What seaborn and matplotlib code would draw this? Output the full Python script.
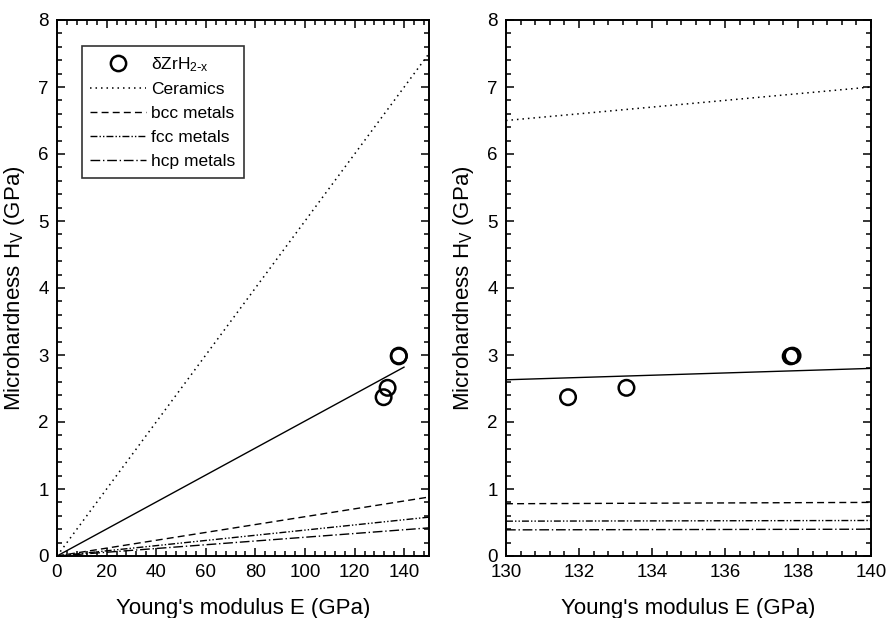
import numpy as np
import pandas as pd
import matplotlib
matplotlib.use("Agg")
import matplotlib.pyplot as plt
from matplotlib.ticker import MultipleLocator
from matplotlib.lines import Line2D
import seaborn as sns

# ---------------- data ----------------
# measured hydride points (Young's modulus E, GPa ; microhardness Hv, GPa)
hydride_E = [131.7, 133.3, 137.8, 137.85]
hydride_H = [2.37, 2.51, 2.98, 2.99]

# left panel: line endpoints
left_E = [0, 150]
left_fit_E = [0, 140]
left_fit_H = [0, 2.82]
left_ceramics = [0, 7.5]
left_bcc = [0, 0.88]
left_fcc = [0, 0.58]
left_hcp = [0, 0.42]

# right panel: line endpoints
right_E = [130, 140]
right_fit_H = [2.63, 2.80]
right_ceramics = [6.5, 7.0]
right_bcc = [0.78, 0.80]
right_fcc = [0.52, 0.53]
right_hcp = [0.39, 0.40]

legend_labels = ["\u03b4ZrH$_{2\\text{-}x}$", "Ceramics", "bcc metals", "fcc metals", "hcp metals"]

# ---------------- style ----------------
sns.set_theme(style="ticks")
plt.rcParams["font.family"] = ["Liberation Sans", "DejaVu Sans"]
plt.rcParams["mathtext.default"] = "regular"
plt.rcParams["axes.linewidth"] = 1.4
for k in ["text.color", "axes.labelcolor", "xtick.color", "ytick.color", "axes.edgecolor"]:
    plt.rcParams[k] = "black"

styles = {
    "Ceramics": dict(dashes=(1.0, 2.6), lw=1.1),
    "bcc metals": dict(dashes=(5.0, 3.0), lw=1.0),
    "fcc metals": dict(dashes=(5.0, 1.5, 1.0, 1.5, 1.0, 1.5), lw=1.0),
    "hcp metals": dict(dashes=(7.0, 2.0, 1.0, 2.0), lw=1.0),
}

fig = plt.figure(figsize=(8.89, 6.18), dpi=100)
axL = fig.add_axes([57 / 889, 62 / 618, 372 / 889, 536 / 618])
axR = fig.add_axes([506 / 889, 62 / 618, 365 / 889, 536 / 618])


def draw_lines(ax, E, fitE, fitH, cer, bcc, fcc, hcp):
    sns.lineplot(x=fitE, y=fitH, ax=ax, color="black", lw=1.0, legend=False)
    for name, vals in [("Ceramics", cer), ("bcc metals", bcc),
                       ("fcc metals", fcc), ("hcp metals", hcp)]:
        st = styles[name]
        l = sns.lineplot(x=E, y=vals, ax=ax, color="black", lw=st["lw"], legend=False)
        l.lines[-1].set_dashes(st["dashes"])


def draw_points(ax):
    sns.scatterplot(x=hydride_E, y=hydride_H, ax=ax, s=125, marker="o",
                    facecolor="none", edgecolor="black", linewidth=1.8,
                    legend=False, zorder=5)


draw_lines(axL, left_E, left_fit_E, left_fit_H, left_ceramics, left_bcc, left_fcc, left_hcp)
draw_points(axL)
draw_lines(axR, right_E, right_E, right_fit_H, right_ceramics, right_bcc, right_fcc, right_hcp)
draw_points(axR)

axL.set_xlim(0, 150)
axL.set_ylim(0, 8)
axL.xaxis.set_major_locator(MultipleLocator(20))
axL.xaxis.set_minor_locator(MultipleLocator(4))
axR.set_xlim(130, 140)
axR.set_ylim(0, 8)
axR.xaxis.set_major_locator(MultipleLocator(2))
axR.xaxis.set_minor_locator(MultipleLocator(0.4))

for ax in (axL, axR):
    ax.yaxis.set_major_locator(MultipleLocator(1))
    ax.yaxis.set_minor_locator(MultipleLocator(0.2))
    ax.tick_params(which="both", direction="in", top=True, right=True,
                   colors="black", labelsize=13.5, width=1.1)
    ax.tick_params(which="major", length=6, pad=6)
    ax.tick_params(which="minor", length=3.5)
    ax.set_xlabel("Young's modulus E (GPa)", fontsize=16, labelpad=12)
    ax.set_ylabel("Microhardness H$_V$ (GPa)", fontsize=16, labelpad=8)
    for s in ax.spines.values():
        s.set_color("black")
        s.set_visible(True)

# legend
handles = [Line2D([], [], ls="none", marker="o", ms=11, mfc="none", mec="black", mew=1.8)]
for name in ["Ceramics", "bcc metals", "fcc metals", "hcp metals"]:
    st = styles[name]
    h = Line2D([], [], color="black", lw=st["lw"])
    h.set_dashes(st["dashes"])
    handles.append(h)
leg = axL.legend(handles, legend_labels, loc="upper left",
                 bbox_to_anchor=(0.066, 0.951), borderaxespad=0,
                 fontsize=12.5, frameon=True, fancybox=False, handlelength=3.2,
                 handletextpad=0.3, labelspacing=0.5, borderpad=0.5)
leg.get_frame().set_edgecolor("black")
leg.get_frame().set_linewidth(1.2)

fig.savefig("out.png", dpi=100, facecolor="white")
